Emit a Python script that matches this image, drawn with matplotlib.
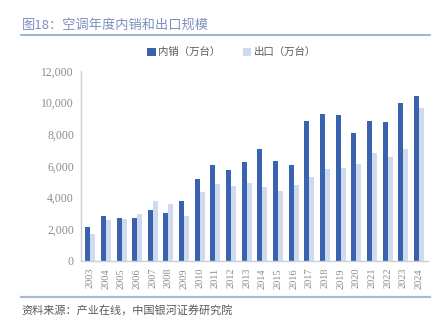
import numpy as np
import matplotlib
matplotlib.use("Agg")
from matplotlib import pyplot as plt

plt.rcParams['font.family'] = ['Noto Sans CJK SC', 'DejaVu Sans']

years = [str(y) for y in range(2003, 2025)]
domestic = [2120, 2870, 2690, 2690, 3230, 3020, 3800, 5180, 6080,
            5750, 6250, 7050, 6310, 6080, 8870, 9290, 9230, 8060,
            8830, 8770, 9990, 10430]
export = [1680, 2600, 2660, 2940, 3820, 3590, 2850, 4380, 4890,
          4720, 4910, 4680, 4410, 4830, 5330, 5830, 5870, 6150,
          6800, 6590, 7090, 9670]

dark = '#3A62AE'
light = '#CDDAF0'
grey = '#8c8c8c'
serif = ['Liberation Serif', 'DejaVu Serif']

fig = plt.figure(figsize=(4.37, 3.23), dpi=100)
ax = fig.add_axes([0.185, 0.192, 0.795, 0.588])

x = np.arange(len(years))
w = 0.32
ax.bar(x - w / 2, domestic, w, color=dark, label='内销（万台）')
ax.bar(x + w / 2, export, w, color=light, label='出口（万台）')

ax.set_xlim(-0.6, len(years) - 0.4)
ax.set_ylim(0, 12000)
ax.set_yticks(range(0, 12001, 2000))
ax.set_yticklabels([f'{v:,}' for v in range(0, 12001, 2000)],
                   family=serif, fontsize=8.5, color=grey)
ax.set_xticks(x)
ax.set_xticklabels(years, rotation=90, family=serif, fontsize=7.5, color=grey)
ax.tick_params(length=0, pad=5)
for s in ['top', 'right']:
    ax.spines[s].set_visible(False)
for s in ['left', 'bottom']:
    ax.spines[s].set_color('#d0d0d0')
    ax.spines[s].set_linewidth(1)

leg = fig.legend(loc='center', bbox_to_anchor=(0.53, 0.838), ncol=2, frameon=False,
                 fontsize=7.5, handlelength=0.8, handleheight=0.8,
                 handletextpad=0.2, columnspacing=2.2)
for t in leg.get_texts():
    t.set_color('#595959')

# title and rules
fig.text(0.05, 0.922, '图18：空调年度内销和出口规模', fontsize=9.5, color='#7d8fbd',
         va='center')
fig.add_artist(plt.Line2D([0.048, 0.985], [0.892, 0.892], color='#8fa3cc', lw=1.2))
fig.add_artist(plt.Line2D([0.048, 0.985], [0.08, 0.08], color='#a9b8d8', lw=1.6))
fig.text(0.05, 0.038, '资料来源：产业在线，中国银河证券研究院', fontsize=8,
         color='#595959', style='italic', va='center')

fig.savefig('out.png', dpi=100)
